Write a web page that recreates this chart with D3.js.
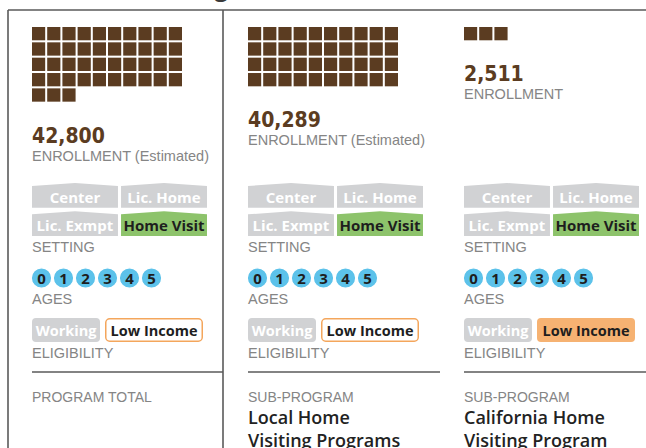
<!DOCTYPE html>
<html>
<head>
<meta charset="utf-8">
<script src="https://cdn.jsdelivr.net/npm/d3@7"></script>
<style>
  body { margin: 0; background: #fff; }
  svg { display: block; }
</style>
</head>
<body>
<div id="chart"></div>
<script>
// chart values
var programs = ["total", "local", "california"];
var enrollment = [42800, 40289, 2511];
var enrollmentLabels = ["ENROLLMENT (Estimated)", "ENROLLMENT (Estimated)", "ENROLLMENT"];
var kinds = ["PROGRAM TOTAL", "SUB-PROGRAM", "SUB-PROGRAM"];
var names = [[], ["Local Home", "Visiting Programs"], ["California Home", "Visiting Program"]];
var settings = ["Center", "Lic. Home", "Lic. Exmpt", "Home Visit"];
var settingOn = [["Home Visit"], ["Home Visit"], ["Home Visit"]];
var ages = ["0", "1", "2", "3", "4", "5"];
var eligibility = ["Working", "Low Income"];
// "none" | "some" | "all"
var lowIncome = ["some", "some", "all"];
var unit = 1000; // one square = 1,000 children

var svgWidth = 646, svgHeight = 448;
var svg = d3.select("#chart").append("svg")
  .attr("width", svgWidth)
  .attr("height", svgHeight);

var brown = "#5b3c21", grayTag = "#d1d2d4", green = "#8dc36b",
    blue = "#5cc2ea", orange = "#f4a65c", lineCol = "#5a5a5a", labelCol = "#858585";
var labelFont = "'Liberation Sans', Arial, sans-serif";
var tagFont = "'Open Sans', 'Noto Sans', sans-serif";
var numFont = "'DejaVu Sans Condensed', 'DejaVu Sans', sans-serif";

// cut off title above the frame
svg.append("text")
  .attr("x", 228).attr("y", -4)
  .attr("text-anchor", "end")
  .attr("font-family", tagFont).attr("font-weight", 700)
  .attr("font-size", 24).attr("fill", "#3a3a3a")
  .text("Home Visiting");

// frame
svg.append("line").attr("x1", 8).attr("x2", svgWidth).attr("y1", 10).attr("y2", 10)
  .attr("stroke", lineCol).attr("stroke-width", 1.6);
[8, 223].forEach(function(x) {
  svg.append("line").attr("x1", x).attr("x2", x).attr("y1", 10).attr("y2", svgHeight)
    .attr("stroke", lineCol).attr("stroke-width", 1.6);
});

// panel scale
var xPanel = d3.scaleBand().domain(programs).range([32, 32 + 216 * 3]);

// waffle scales
var xCell = d3.scaleBand().domain(d3.range(10)).range([0, 150]).paddingInner(2 / 15);
var yCell = d3.scaleBand().domain(d3.range(6)).range([27, 27 + 90]).paddingInner(2 / 15);

// setting tag scales
var xTag = d3.scaleBand().domain([0, 1]).range([0, 175]).paddingInner(6 / 175);
var yTag = d3.scaleBand().domain([0, 1]).range([183, 236]).paddingInner(7 / 53);

// ages
var xAge = d3.scalePoint().domain(ages).range([9.5, 9.5 + 22 * 5]);

var fmt = d3.format(",");

programs.forEach(function(p, i) {
  var g = svg.append("g").attr("transform", "translate(" + xPanel(p) + ",0)");

  // waffle squares
  var n = Math.round(enrollment[i] / unit);
  var cells = d3.range(n);
  g.selectAll("rect.cell").data(cells).enter().append("rect")
    .attr("class", "cell")
    .attr("x", function(d) { return xCell(d % 10); })
    .attr("y", function(d) { return yCell(Math.floor(d / 10)); })
    .attr("width", xCell.bandwidth())
    .attr("height", yCell.bandwidth())
    .attr("fill", brown);

  var rows = Math.ceil(n / 10);
  var numY = yCell(rows - 1) + yCell.bandwidth() + 41;
  g.append("text").attr("x", 0).attr("y", numY)
    .attr("font-family", numFont).attr("font-stretch", "condensed").attr("font-weight", 700)
    .attr("font-size", 21).attr("fill", brown)
    .text(fmt(enrollment[i]));
  g.append("text").attr("x", 0).attr("y", numY + 18)
    .attr("font-family", labelFont).attr("font-size", 14.5).attr("fill", labelCol)
    .text(enrollmentLabels[i]);

  // setting tags
  settings.forEach(function(s, k) {
    var tx = xTag(k % 2), ty = yTag(Math.floor(k / 2));
    var w = xTag.bandwidth(), h = yTag.bandwidth();
    var on = settingOn[i].indexOf(s) >= 0;
    g.append("path")
      .attr("d", "M" + tx + "," + (ty + 3) + "L" + (tx + w / 2) + "," + ty + "L" + (tx + w) + "," + (ty + 3) +
        "L" + (tx + w) + "," + (ty + h) + "L" + tx + "," + (ty + h) + "Z")
      .attr("fill", on ? green : grayTag);
    g.append("text").attr("x", tx + w / 2).attr("y", ty + h - 5)
      .attr("text-anchor", "middle")
      .attr("font-family", tagFont).attr("font-weight", 700).attr("font-size", 15)
      .attr("fill", on ? "#1e1e1e" : "#fff")
      .text(s);
  });
  g.append("text").attr("x", 0).attr("y", 252)
    .attr("font-family", labelFont).attr("font-size", 14.5).attr("fill", labelCol)
    .text("SETTING");

  // ages
  g.selectAll("circle.age").data(ages).enter().append("circle")
    .attr("class", "age")
    .attr("cx", function(d) { return xAge(d); })
    .attr("cy", 278)
    .attr("r", 10.2)
    .attr("fill", blue)
    .attr("stroke", "#fff").attr("stroke-width", 1.2);
  g.selectAll("text.age").data(ages).enter().append("text")
    .attr("class", "age")
    .attr("x", function(d) { return xAge(d); })
    .attr("y", 283.5)
    .attr("text-anchor", "middle")
    .attr("font-family", tagFont).attr("font-weight", 700).attr("font-size", 15)
    .attr("fill", "#1e1e1e")
    .text(function(d) { return d; });
  g.append("text").attr("x", 0).attr("y", 304)
    .attr("font-family", labelFont).attr("font-size", 14.5).attr("fill", labelCol)
    .text("AGES");

  // eligibility
  var eWidths = [68, 98], eX = [0, 73];
  eligibility.forEach(function(e, k) {
    var low = k === 1;
    var state = low ? lowIncome[i] : "none";
    g.append("rect")
      .attr("x", eX[k] + (state === "some" ? 0.75 : 0))
      .attr("y", 318 + (state === "some" ? 0.75 : 0))
      .attr("width", eWidths[k] - (state === "some" ? 1.5 : 0))
      .attr("height", 24 - (state === "some" ? 1.5 : 0))
      .attr("rx", 4)
      .attr("fill", state === "all" ? "#f6b272" : state === "some" ? "#fff" : grayTag)
      .attr("stroke", state === "some" ? orange : "none")
      .attr("stroke-width", 1.5);
    g.append("text").attr("x", eX[k] + eWidths[k] / 2).attr("y", 336)
      .attr("text-anchor", "middle")
      .attr("font-family", tagFont).attr("font-weight", 700).attr("font-size", 14.5)
      .attr("fill", state === "none" ? "#fff" : "#1e1e1e")
      .text(e);
  });
  g.append("text").attr("x", 0).attr("y", 358)
    .attr("font-family", labelFont).attr("font-size", 14.5).attr("fill", labelCol)
    .text("ELIGIBILITY");

  // divider
  var lineEnd = i === 0 ? 223 - xPanel(p) : (i === 1 ? 192 : svgWidth - xPanel(p));
  g.append("line").attr("x1", 0).attr("x2", lineEnd).attr("y1", 372).attr("y2", 372)
    .attr("stroke", lineCol).attr("stroke-width", 1.6);

  // program names
  g.append("text").attr("x", 0).attr("y", 402)
    .attr("font-family", labelFont).attr("font-size", 14).attr("fill", labelCol)
    .text(kinds[i]);
  names[i].forEach(function(t, k) {
    g.append("text").attr("x", 0).attr("y", 424 + k * 23)
      .attr("font-family", tagFont).attr("font-weight", 600).attr("font-size", 18)
      .attr("fill", "#222")
      .text(t);
  });
});
</script>
</body>
</html>
